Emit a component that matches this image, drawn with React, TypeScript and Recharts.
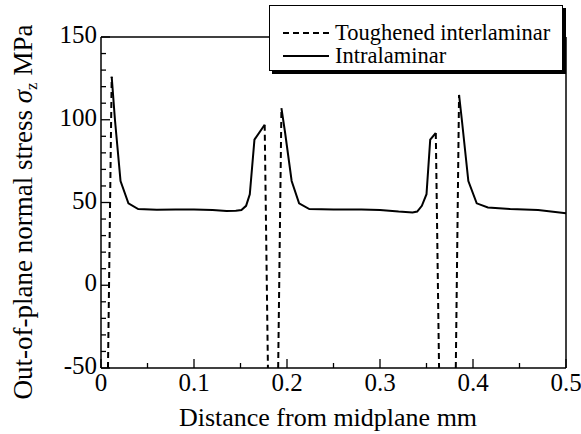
import { LineChart, Line, XAxis, YAxis, Legend } from 'recharts';

// distance from midplane (mm) and out-of-plane normal stress (MPa); null = gap between plies
const intraDist = [
  0.0115, 0.015, 0.021, 0.0295, 0.04, 0.06, 0.08, 0.1, 0.12, 0.135, 0.145, 0.151, 0.156, 0.16, 0.165, 0.176,
  0.185,
  0.194, 0.198, 0.205, 0.213, 0.224, 0.25, 0.28, 0.3, 0.32, 0.335, 0.34, 0.345, 0.35, 0.354, 0.36,
  0.37,
  0.385, 0.388, 0.395, 0.404, 0.416, 0.44, 0.47, 0.5,
];
const intraStress = [
  126, 100, 63, 49.5, 46, 45.6, 45.8, 45.8, 45.5, 44.8, 45, 45.5, 48, 55, 88, 97,
  null,
  107, 92, 63, 49.5, 46, 45.8, 45.8, 45.5, 44.5, 44, 44.5, 48, 55, 88, 92,
  null,
  115, 100, 63, 49.5, 47, 46, 45.5, 43.5,
];

const toughDist = [0.0075, 0.0115, 0.09, 0.176, 0.1795, 0.185, 0.1905, 0.194, 0.27, 0.36, 0.3635, 0.372, 0.3815, 0.385];
const toughStress = [-50, 126, null, 97, -50, null, -50, 107, null, 92, -50, null, -50, 115];

const xTicks = [0, 0.05, 0.1, 0.15, 0.2, 0.25, 0.3, 0.35, 0.4, 0.45, 0.5];
const yTicks = [-50, -40, -30, -20, -10, 0, 10, 20, 30, 40, 50, 60, 70, 80, 90, 100, 110, 120, 130, 140, 150];

const intraData = intraDist.map((d, i) => ({ d, s: intraStress[i] }));
const toughData = toughDist.map((d, i) => ({ d, s: toughStress[i] }));

const FONT = '"Liberation Serif", "Times New Roman", serif';

const isMajorX = (v: number) => Math.abs(v * 10 - Math.round(v * 10)) < 1e-6;
const isMajorY = (v: number) => v % 50 === 0;

const BottomTick = ({ x, y, payload }: any) => {
  const v = payload.value;
  const major = isMajorX(v);
  return (
    <g>
      <line x1={x} y1={y} x2={x} y2={y - (major ? 9 : 5)} stroke="#000" strokeWidth={1.3} />
      {major && (
        <text x={x} y={y + 23} textAnchor="middle" fontSize={25} fontFamily={FONT} fill="#000">
          {v === 0 ? '0' : v.toFixed(1)}
        </text>
      )}
    </g>
  );
};

const TopTick = ({ x, y, payload }: any) => (
  <line x1={x} y1={y} x2={x} y2={y + (isMajorX(payload.value) ? 9 : 5)} stroke="#000" strokeWidth={1.3} />
);

const LeftTick = ({ x, y, payload }: any) => {
  const v = payload.value;
  const major = isMajorY(v);
  return (
    <g>
      <line x1={x} y1={y} x2={x + (major ? 9 : 5)} y2={y} stroke="#000" strokeWidth={1.3} />
      {major && (
        <text x={x - 4} y={y + 6} textAnchor="end" fontSize={25} fontFamily={FONT} fill="#000">
          {v}
        </text>
      )}
    </g>
  );
};

const RightTick = ({ x, y, payload }: any) => (
  <line x1={x} y1={y} x2={x - (isMajorY(payload.value) ? 9 : 5)} y2={y} stroke="#000" strokeWidth={1.3} />
);

const XTitle = () => (
  <text x={328} y={426} textAnchor="middle" fontSize={26} fontFamily={FONT} fill="#000">
    Distance from midplane mm
  </text>
);

const YTitle = () => (
  <text
    x={32}
    y={212}
    transform="rotate(-90, 32, 212)"
    textAnchor="middle"
    fontSize={27}
    fontFamily={FONT}
    fill="#000"
  >
    Out-of-plane normal stress{'  '}
    <tspan fontStyle="italic">σ</tspan>
    <tspan fontSize={17} dy={5}>z</tspan>
    <tspan dy={-5}> MPa</tspan>
  </text>
);

const legendItems = [
  { label: 'Toughened interlaminar', dash: '6 4' },
  { label: 'Intralaminar', dash: undefined },
];

const LegendBox = () => (
  <div
    style={{
      width: 294,
      height: 66,
      boxSizing: 'border-box',
      border: '1.5px solid #000',
      boxShadow: '3px 3px 0 #000',
      background: '#fff',
      fontFamily: FONT,
      fontSize: 22.5,
      lineHeight: '23px',
      padding: '15px 0 0 13px',
      color: '#000',
    }}
  >
    {legendItems.map((item) => (
      <div key={item.label} style={{ display: 'flex', alignItems: 'center', height: 23 }}>
        <svg width={46} height={4} style={{ display: 'block' }}>
          <line x1={0} y1={2} x2={46} y2={2} stroke="#000" strokeWidth={2} strokeDasharray={item.dash} />
        </svg>
        <span style={{ marginLeft: 6, whiteSpace: 'nowrap' }}>{item.label}</span>
      </div>
    ))}
  </div>
);

export default function App() {
  return (
    <div style={{ position: 'absolute', left: 0, top: 0, background: '#fff' }}>
      <LineChart width={581} height={434} margin={{ top: 36, right: 14, bottom: 0, left: 0 }}>
        <XAxis
          xAxisId="bottom"
          dataKey="d"
          type="number"
          domain={[0, 0.5]}
          ticks={xTicks}
          interval={0}
          height={66}
          tickSize={0}
          tickMargin={0}
          tickLine={false}
          axisLine={{ stroke: '#000', strokeWidth: 1.5 }}
          tick={<BottomTick />}
          label={<XTitle />}
        />
        <XAxis
          xAxisId="top"
          orientation="top"
          dataKey="d"
          type="number"
          domain={[0, 0.5]}
          ticks={xTicks}
          interval={0}
          height={1}
          tickSize={0}
          tickMargin={0}
          tickLine={false}
          axisLine={{ stroke: '#000', strokeWidth: 1.5 }}
          tick={<TopTick />}
        />
        <YAxis
          yAxisId="left"
          type="number"
          domain={[-50, 150]}
          ticks={yTicks}
          interval={0}
          width={101}
          tickSize={0}
          tickMargin={0}
          tickLine={false}
          axisLine={{ stroke: '#000', strokeWidth: 1.5 }}
          tick={<LeftTick />}
          label={<YTitle />}
        />
        <YAxis
          yAxisId="right"
          orientation="right"
          type="number"
          domain={[-50, 150]}
          ticks={yTicks}
          interval={0}
          width={1}
          tickSize={0}
          tickMargin={0}
          tickLine={false}
          axisLine={{ stroke: '#000', strokeWidth: 1.5 }}
          tick={<RightTick />}
        />
        <Line
          xAxisId="bottom"
          yAxisId="left"
          data={toughData}
          dataKey="s"
          name="Toughened interlaminar"
          type="linear"
          stroke="#000"
          strokeWidth={2}
          strokeDasharray="6 4"
          dot={false}
          isAnimationActive={false}
        />
        <Line
          xAxisId="bottom"
          yAxisId="left"
          data={intraData}
          dataKey="s"
          name="Intralaminar"
          type="linear"
          stroke="#000"
          strokeWidth={2}
          dot={false}
          isAnimationActive={false}
        />
        <Legend
          layout="vertical"
          align="center"
          verticalAlign="middle"
          content={<LegendBox />}
          wrapperStyle={{ left: 269, top: 5, width: 298, height: 70 }}
        />
      </LineChart>
    </div>
  );
}
